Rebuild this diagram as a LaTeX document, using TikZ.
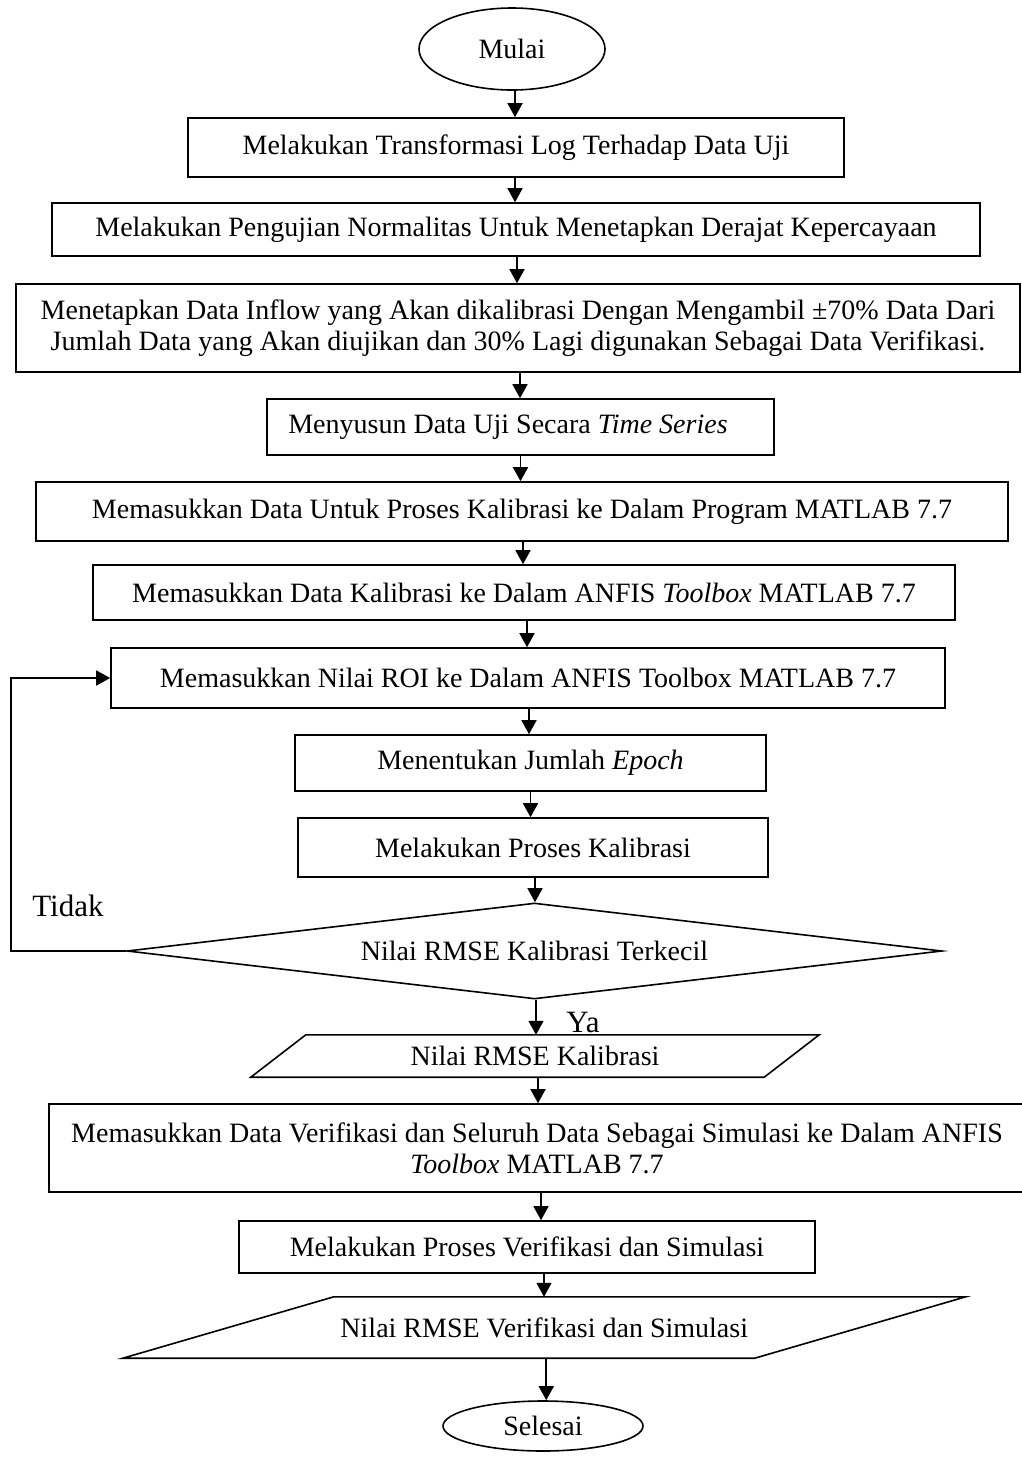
\documentclass[tikz,border=0pt]{standalone}
\usepackage{fontspec}
\setmainfont{Liberation Serif}
\usetikzlibrary{shapes.geometric,arrows.meta}
\begin{document}
\begin{tikzpicture}[x=1pt,y=-1pt,
  every node/.style={font=\fontsize{28}{31}\selectfont, inner sep=0pt},
  box/.style={draw, line width=1.6pt, align=center},
  arr/.style={line width=1.6pt, -{Triangle[width=15pt,length=14pt]}},
  para/.style={line width=1.6pt},
  lab/.style={font=\fontsize{31}{34}\selectfont}]
\useasboundingbox (0,0) rectangle (1022,1457);

\node[box, ellipse, minimum width=186pt, minimum height=82pt] (start) at (512,49) {Mulai};
\node[box, minimum width=656pt, minimum height=59pt] (b1) at (516,147.5) {Melakukan Transformasi Log Terhadap Data Uji};
\node[box, minimum width=928pt, minimum height=53pt] (b2) at (516,229.5) {Melakukan Pengujian Normalitas Untuk Menetapkan Derajat Kepercayaan};
\node[box, minimum width=1004pt, minimum height=88pt] (b3) at (518,328) {Menetapkan Data Inflow yang Akan dikalibrasi Dengan Mengambil ±70\% Data Dari\\Jumlah Data yang Akan diujikan dan 30\% Lagi digunakan Sebagai Data Verifikasi.};
\node[box, minimum width=507pt, minimum height=56pt] (b4) at (520.5,427) {Menyusun Data Uji Secara \textit{Time Series}\hspace{25pt}};
\node[box, minimum width=972pt, minimum height=59pt] (b5) at (522,511.5) {Memasukkan Data Untuk Proses Kalibrasi ke Dalam Program MATLAB 7.7};
\node[box, minimum width=862pt, minimum height=55pt] (b6) at (524,592.5) {Memasukkan Data Kalibrasi ke Dalam ANFIS \textit{Toolbox} MATLAB 7.7};
\node[box, minimum width=834pt, minimum height=60pt] (b7) at (528,678) {Memasukkan Nilai ROI ke Dalam ANFIS Toolbox MATLAB 7.7};
\node[box, minimum width=471pt, minimum height=56pt] (b8) at (530.5,763) {Menentukan Jumlah \textit{Epoch}};
\node[box, minimum width=470pt, minimum height=59pt] (b9) at (533,847.5) {Melakukan Proses Kalibrasi};
\node[draw, line width=1.6pt, diamond, aspect=8.49, minimum width=815pt, minimum height=96pt] (dia) at (534.5,951) {Nilai RMSE Kalibrasi Terkecil};
\node[minimum width=513pt, minimum height=42pt] (p1) at (535,1056) {Nilai RMSE Kalibrasi};
\draw[para] ([xshift=27.5pt]p1.north west) -- ([xshift=27.5pt]p1.north east) -- ([xshift=-27.5pt]p1.south east) -- ([xshift=-27.5pt]p1.south west) -- cycle;
\node[box, minimum width=976pt, minimum height=88pt] (b10) at (537,1148) {Memasukkan Data Verifikasi dan Seluruh Data Sebagai Simulasi ke Dalam ANFIS\\\textit{Toolbox} MATLAB 7.7};
\node[box, minimum width=576pt, minimum height=52pt] (b11) at (527,1247) {Melakukan Proses Verifikasi dan Simulasi};
\node[minimum width=631.5pt, minimum height=61pt] (p2) at (544.25,1327.5) {Nilai RMSE Verifikasi dan Simulasi};
\draw[para] ([xshift=105.5pt]p2.north west) -- ([xshift=105.5pt]p2.north east) -- ([xshift=-105.5pt]p2.south east) -- ([xshift=-105.5pt]p2.south west) -- cycle;
\node[box, ellipse, minimum width=200pt, minimum height=50pt] (end) at (543,1426) {Selesai};

\node[lab, anchor=base] (tidak) at (68,916) {Tidak};
\node[lab, anchor=base] (ya) at (583,1032) {Ya};

\draw[arr] ([xshift=3pt]start.south) -- ([xshift=3pt]start.south |- b1.north);
\draw[arr] ([xshift=-1pt]b1.south) -- ([xshift=-1pt]b1.south |- b2.north);
\draw[arr] ([xshift=1pt]b2.south) -- ([xshift=1pt]b2.south |- b3.north);
\draw[arr] ([xshift=2pt]b3.south) -- ([xshift=2pt]b3.south |- b4.north);
\draw[arr] (b4.south) -- (b4.south |- b5.north);
\draw[arr] ([xshift=1pt]b5.south) -- ([xshift=1pt]b5.south |- b6.north);
\draw[arr] ([xshift=3pt]b6.south) -- ([xshift=3pt]b6.south |- b7.north);
\draw[arr] ([xshift=1pt]b7.south) -- ([xshift=1pt]b7.south |- b8.north);
\draw[arr] (b8.south) -- (b8.south |- b9.north);
\draw[arr] ([xshift=2pt]b9.south) -- ([xshift=2pt]b9.south |- dia.north);
\draw[arr] ([xshift=1.5pt]dia.south) -- ([xshift=1.5pt]dia.south |- p1.north);
\draw[arr] ([xshift=3pt]p1.south) -- ([xshift=3pt]p1.south |- b10.north);
\draw[arr] ([xshift=4pt]b10.south) -- ([xshift=4pt]b10.south |- b11.north);
\draw[arr] ([xshift=17pt]b11.south) -- ([xshift=17pt]b11.south |- p2.north);
\draw[arr] ([xshift=2pt]p2.south) -- ([xshift=2pt]p2.south |- end.north);
\draw[arr] (dia.west) -- ++(-115,0) |- (b7.west);
\end{tikzpicture}
\end{document}
